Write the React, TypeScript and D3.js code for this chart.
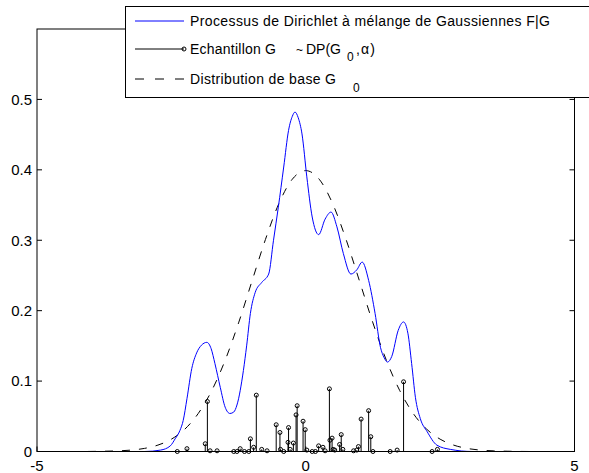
import React from "react";
import * as d3 from "d3";

// Mixture density F|G
const mixX = [-5, -3.0, -2.7, -2.52, -2.43, -2.34, -2.28, -2.21, -2.12, -2.03, -1.94, -1.84, -1.76, -1.69, -1.59, -1.50, -1.41, -1.34, -1.28, -1.16, -1.10, -1.03, -0.94, -0.82, -0.69, -0.60, -0.51, -0.41, -0.32, -0.25, -0.20, -0.14, -0.07, 0.02, 0.12, 0.24, 0.36, 0.47, 0.58, 0.70, 0.84, 0.95, 1.05, 1.17, 1.29, 1.39, 1.46, 1.52, 1.60, 1.72, 1.82, 1.90, 1.97, 2.04, 2.13, 2.26, 2.44, 2.69, 3.1, 5];
const mixY = [0, 0, 0.002, 0.008, 0.018, 0.030, 0.044, 0.075, 0.118, 0.140, 0.151, 0.155, 0.146, 0.125, 0.091, 0.063, 0.054, 0.056, 0.066, 0.115, 0.150, 0.196, 0.226, 0.240, 0.252, 0.300, 0.347, 0.404, 0.456, 0.476, 0.482, 0.474, 0.451, 0.390, 0.333, 0.308, 0.330, 0.340, 0.319, 0.281, 0.252, 0.258, 0.269, 0.243, 0.196, 0.148, 0.133, 0.127, 0.135, 0.172, 0.184, 0.168, 0.125, 0.077, 0.047, 0.028, 0.009, 0.003, 0, 0];

// Base distribution G0 (N(0,1)-shaped)
const baseX = [-5, -4.75, -4.5, -4.25, -4, -3.75, -3.5, -3.25, -3, -2.75, -2.5, -2.25, -2, -1.75, -1.5, -1.25, -1, -0.75, -0.5, -0.25, 0, 0.25, 0.5, 0.75, 1, 1.25, 1.5, 1.75, 2, 2.25, 2.5, 2.75, 3, 3.25, 3.5, 3.75, 4, 4.25, 4.5, 4.75, 5];
const baseY = [0, 0, 0, 0, 0.0001, 0.0004, 0.0009, 0.002, 0.0044, 0.0091, 0.0175, 0.0317, 0.054, 0.0863, 0.1295, 0.1826, 0.242, 0.3011, 0.3521, 0.3867, 0.3989, 0.3867, 0.3521, 0.3011, 0.242, 0.1826, 0.1295, 0.0863, 0.054, 0.0317, 0.0175, 0.0091, 0.0044, 0.002, 0.0009, 0.0004, 0.0001, 0, 0, 0, 0];

// Sample G ~ DP(G0, alpha): atom locations and weights
const atomX = [-2.39, -2.21, -1.87, -1.83, -1.78, -1.65, -1.34, -1.28, -1.22, -1.14, -1.06, -1.03, -0.97, -0.92, -0.82, -0.72, -0.55, -0.48, -0.47, -0.41, -0.33, -0.32, -0.29, -0.23, -0.18, -0.16, -0.05, -0.01, 0.02, 0.12, 0.18, 0.24, 0.32, 0.36, 0.44, 0.45, 0.49, 0.51, 0.54, 0.63, 0.66, 0.69, 0.89, 0.95, 0.98, 1.03, 1.17, 1.21, 1.25, 1.57, 1.70, 1.82, 2.35, 2.45];
const atomW = [0, 0.004, 0.011, 0.071, 0.001, 0.001, 0, 0, 0.004, 0, 0, 0.018, 0.006, 0.080, 0.003, 0.001, 0.038, 0.027, 0.003, 0, 0.013, 0.034, 0.003, 0.012, 0.052, 0.065, 0.043, 0.031, 0.002, 0, 0, 0.008, 0.006, 0.001, 0.089, 0.016, 0.019, 0.003, 0.002, 0.010, 0.024, 0.003, 0.001, 0.002, 0.007, 0.046, 0.058, 0.021, 0, 0, 0.002, 0.099, 0, 0.003];

const xTicks = [-5, 0, 5];
const yTicks = [0, 0.1, 0.2, 0.3, 0.4, 0.5];

const FONT = "Arial, 'Liberation Sans', Helvetica, sans-serif";

export default function App() {
  const W = 589, H = 473;
  const x = d3.scaleLinear().domain([-5, 5]).range([37, 574.5]);
  const y = d3.scaleLinear().domain([0, 0.6]).range([451.5, 29]);

  const mixLine = d3.line<number>().x((_, i) => x(mixX[i])).y((d) => y(d)).curve(d3.curveMonotoneX);
  const baseLine = d3.line<number>().x((_, i) => x(baseX[i])).y((d) => y(d)).curve(d3.curveMonotoneX);

  const x0 = x.range()[0], x1 = x.range()[1];
  const yb = y(0), yt = y.range()[1];

  return (
    <div style={{ position: "absolute", left: 0, top: 0 }}>
      <svg width={W} height={H} style={{ display: "block", background: "#fff" }} fontFamily={FONT}>
        <rect x={0} y={0} width={W} height={H} fill="#fff" />
        <path d={baseLine(baseY) || ""} fill="none" stroke="#000" strokeWidth={1} strokeDasharray="8,9" />
        {atomX.map((ax, i) => (
          <g key={i}>
            <line x1={x(ax)} x2={x(ax)} y1={yb} y2={y(atomW[i])} stroke="#000" strokeWidth={1} />
            <circle cx={x(ax)} cy={y(atomW[i])} r={2} fill="none" stroke="#000" strokeWidth={1} />
          </g>
        ))}
        <path d={mixLine(mixY) || ""} fill="none" stroke="#0000ff" strokeWidth={1} />
        <rect x={x0} y={yt} width={x1 - x0} height={yb - yt} fill="none" stroke="#000" strokeWidth={1} />
        {yTicks.map((t) => (
          <g key={"y" + t}>
            <line x1={x0} x2={x0 + 5} y1={y(t)} y2={y(t)} stroke="#000" />
            <line x1={x1} x2={x1 - 5} y1={y(t)} y2={y(t)} stroke="#000" />
            <text x={x0 - 5} y={y(t)} dy="0.36em" textAnchor="end" fontSize={15}>{String(t)}</text>
          </g>
        ))}
        {xTicks.map((t) => (
          <g key={"x" + t}>
            <line x1={x(t)} x2={x(t)} y1={yb} y2={yb - 5} stroke="#000" />
            <text x={x(t)} y={471} textAnchor="middle" fontSize={15}>{String(t)}</text>
          </g>
        ))}
        <rect x={125.5} y={6.5} width={480} height={91} fill="#fff" stroke="#000" strokeWidth={1} />
        <line x1={135} x2={184} y1={21} y2={21} stroke="#0000ff" strokeWidth={1} />
        <text x={190} y={26} fontSize={14} textLength={360} lengthAdjust="spacing">Processus de Dirichlet à mélange de Gaussiennes F|G</text>
        <line x1={135} x2={184} y1={49} y2={49} stroke="#000" strokeWidth={1} />
        <circle cx={184} cy={49} r={2} fill="none" stroke="#000" strokeWidth={1} />
        <text x={190} y={54} fontSize={14} textLength={86} lengthAdjust="spacing">Echantillon G</text>
        <text x={296} y={54} fontSize={12}>~</text>
        <text x={306} y={54} fontSize={14} textLength={35} lengthAdjust="spacing">DP(G</text>
        <text x={347} y={61} fontSize={12}>0</text>
        <text x={356} y={54} fontSize={14} textLength={19} lengthAdjust="spacing">,α)</text>
        <line x1={135} x2={185} y1={79} y2={79} stroke="#000" strokeWidth={1} strokeDasharray="9,11" />
        <text x={190} y={84} fontSize={14} textLength={146} lengthAdjust="spacing">Distribution de base G</text>
        <text x={353} y={92} fontSize={12}>0</text>
      </svg>
    </div>
  );
}
